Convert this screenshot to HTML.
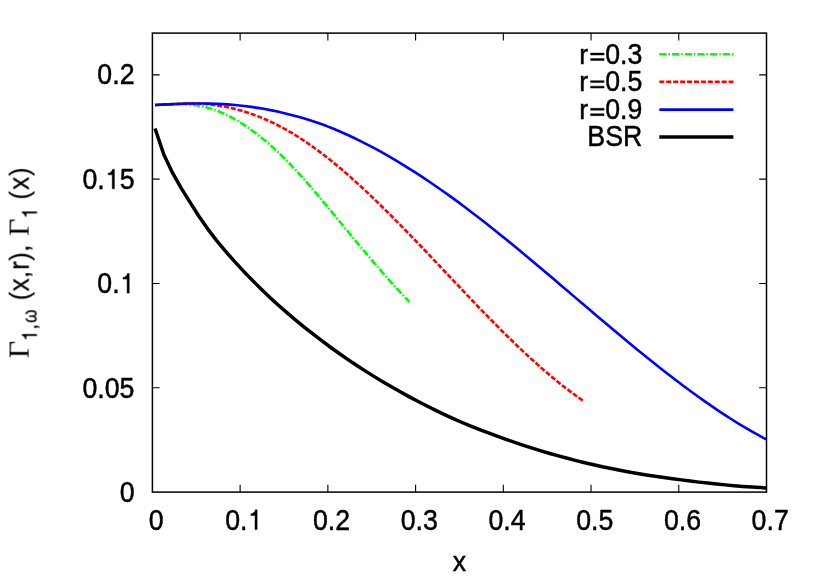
<!DOCTYPE html>
<html><head><meta charset="utf-8"><title>plot</title>
<style>html,body{margin:0;padding:0;background:#fff;}svg{display:block;}</style>
</head><body>
<svg width="830" height="581" viewBox="0 0 830 581">
<rect width="830" height="581" fill="#fff"/>
<g fill="none" stroke-linejoin="round">
<path d="M155.00,105.04 L160.19,104.69 L165.38,104.45 L170.58,104.28 L175.77,104.04 L180.96,103.85 L186.15,103.99 L191.34,104.63 L196.53,105.27 L201.73,106.17 L206.92,107.39 L212.11,108.95 L217.30,110.77 L222.49,112.97 L227.69,115.48 L232.88,118.23 L238.07,121.22 L243.26,124.44 L248.45,127.93 L253.64,131.65 L258.84,135.60 L264.03,139.77 L269.22,144.16 L274.41,148.77 L279.60,153.63 L284.80,158.71 L289.99,163.99 L295.18,169.48 L300.37,175.15 L305.56,180.98 L310.76,186.96 L315.95,193.06 L321.14,199.24 L326.33,205.41 L331.52,211.64 L336.71,217.93 L341.91,224.23 L347.10,230.54 L352.29,236.83 L357.48,243.09 L362.67,249.31 L367.87,255.49 L373.06,261.60 L378.25,267.64 L383.44,273.60 L388.63,279.47 L393.82,285.24 L399.02,290.89 L404.21,296.42 L409.40,301.81" stroke="#00ff00" stroke-width="2.6" stroke-dasharray="7.2 2 1.5 2"/>
<path d="M155.00,105.04 L161.22,104.63 L167.43,104.38 L173.65,104.13 L179.87,103.90 L186.09,103.65 L192.30,103.50 L198.52,103.46 L204.74,103.78 L210.96,104.49 L217.17,105.38 L223.39,106.41 L229.61,107.67 L235.83,109.16 L242.04,110.87 L248.26,112.81 L254.48,114.99 L260.70,117.40 L266.91,120.04 L273.13,122.91 L279.35,126.02 L285.57,129.35 L291.78,132.92 L298.00,136.74 L304.22,140.80 L310.43,145.08 L316.65,149.56 L322.87,154.23 L329.09,159.09 L335.30,164.12 L341.52,169.32 L347.74,174.68 L353.96,180.18 L360.17,185.82 L366.39,191.59 L372.61,197.48 L378.83,203.48 L385.04,209.58 L391.26,215.77 L397.48,222.05 L403.70,228.39 L409.91,234.80 L416.13,241.26 L422.35,247.77 L428.57,254.31 L434.78,260.87 L441.00,267.45 L447.22,274.04 L453.43,280.63 L459.65,287.20 L465.87,293.75 L472.09,300.26 L478.30,306.74 L484.52,313.17 L490.74,319.53 L496.96,325.83 L503.17,332.05 L509.39,338.17 L515.61,344.21 L521.83,350.13 L528.04,355.94 L534.26,361.62 L540.48,367.16 L546.70,372.56 L552.91,377.81 L559.13,382.89 L565.35,387.79 L571.57,392.52 L577.78,397.05 L584.00,401.38" stroke="#ff0000" stroke-width="2.6" stroke-dasharray="5 1.93"/>
<path d="M155.00,105.04 L161.87,104.60 L168.74,104.34 L175.61,104.04 L182.47,103.78 L189.34,103.56 L196.21,103.46 L203.08,103.50 L209.95,103.64 L216.82,103.83 L223.69,104.16 L230.55,104.64 L237.42,105.25 L244.29,106.01 L251.16,106.90 L258.03,107.90 L264.90,109.05 L271.77,110.36 L278.63,111.81 L285.50,113.41 L292.37,115.17 L299.24,117.05 L306.11,119.07 L312.98,121.25 L319.84,123.59 L326.71,126.09 L333.58,128.80 L340.45,131.71 L347.32,134.77 L354.19,137.98 L361.06,141.33 L367.92,144.83 L374.79,148.46 L381.66,152.22 L388.53,156.11 L395.40,160.13 L402.27,164.28 L409.14,168.54 L416.00,172.92 L422.87,177.41 L429.74,182.01 L436.61,186.71 L443.48,191.51 L450.35,196.42 L457.22,201.41 L464.08,206.50 L470.95,211.67 L477.82,216.93 L484.69,222.27 L491.56,227.68 L498.43,233.16 L505.30,238.71 L512.16,244.31 L519.03,249.97 L525.90,255.67 L532.77,261.41 L539.64,267.18 L546.51,272.99 L553.38,278.82 L560.24,284.66 L567.11,290.52 L573.98,296.38 L580.85,302.24 L587.72,308.10 L594.59,313.94 L601.46,319.77 L608.32,325.57 L615.19,331.35 L622.06,337.09 L628.93,342.79 L635.80,348.44 L642.67,354.05 L649.53,359.59 L656.40,365.07 L663.27,370.48 L670.14,375.82 L677.01,381.07 L683.88,386.24 L690.75,391.32 L697.61,396.30 L704.48,401.17 L711.35,405.94 L718.22,410.59 L725.09,415.12 L731.96,419.52 L738.83,423.79 L745.69,427.92 L752.56,431.90 L759.43,435.74 L766.30,439.42" stroke="#0000ff" stroke-width="2.6"/>
<path d="M155.03,128.53 L163.80,154.52 L172.58,172.93 L181.35,188.35 L190.12,202.38 L198.89,216.21 L207.67,228.87 L216.44,240.32 L225.21,250.85 L233.99,260.88 L242.76,270.37 L251.53,279.42 L260.30,288.17 L269.08,296.64 L277.85,304.75 L286.62,312.42 L295.40,319.85 L304.17,327.04 L312.94,333.98 L321.71,340.71 L330.49,347.22 L339.26,353.52 L348.03,359.59 L356.81,365.46 L365.58,371.14 L374.35,376.63 L383.12,381.93 L391.90,387.07 L400.67,392.06 L409.44,396.87 L418.22,401.52 L426.99,406.00 L435.76,410.35 L444.53,414.55 L453.31,418.59 L462.08,422.48 L470.85,426.21 L479.63,429.66 L488.40,432.97 L497.17,436.15 L505.94,439.30 L514.72,442.37 L523.49,445.32 L532.26,448.15 L541.04,450.86 L549.81,453.45 L558.58,455.94 L567.35,458.31 L576.13,460.57 L584.90,462.71 L593.67,464.74 L602.45,466.68 L611.22,468.52 L619.99,470.26 L628.76,471.91 L637.54,473.46 L646.31,474.92 L655.08,476.29 L663.86,477.56 L672.63,478.76 L681.40,479.88 L690.17,481.04 L698.95,482.12 L707.72,483.11 L716.49,484.03 L725.27,484.88 L734.04,485.68 L742.81,486.40 L751.58,487.04 L760.36,487.60 L766.30,487.94" stroke="#000" stroke-width="3.5"/>
</g>
<g fill="none">
<path d="M659.3,54.2 H733.4" stroke="#00ff00" stroke-width="2.6" stroke-dasharray="7.2 2 1.5 2"/>
<path d="M659.3,81.7 H733.4" stroke="#ff0000" stroke-width="2.6" stroke-dasharray="5 1.93"/>
<path d="M659.3,109.6 H733.4" stroke="#0000ff" stroke-width="2.6"/>
<path d="M659.3,137.1 H733.4" stroke="#000" stroke-width="3.5"/>
</g>
<g stroke="#000" fill="none">
<rect x="152.4" y="33.1" width="614.10" height="459.00" stroke-width="1.5"/>
<path d="M240.13,492.1 v-7.3 M240.13,33.1 v7.3 M327.86,492.1 v-7.3 M327.86,33.1 v7.3 M415.59,492.1 v-7.3 M415.59,33.1 v7.3 M503.31,492.1 v-7.3 M503.31,33.1 v7.3 M591.04,492.1 v-7.3 M591.04,33.1 v7.3 M678.77,492.1 v-7.3 M678.77,33.1 v7.3 M152.4,387.78 h7.3 M766.5,387.78 h-7.3 M152.4,283.46 h7.3 M766.5,283.46 h-7.3 M152.4,179.15 h7.3 M766.5,179.15 h-7.3 M152.4,74.83 h7.3 M766.5,74.83 h-7.3" stroke-width="1.1"/>
</g>
<g fill="#000" opacity="0.999">
<g font-family="'Liberation Sans', sans-serif" font-size="27.00" stroke="#000" stroke-width="0.45">
<text transform="translate(148.67,529.50) scale(0.99,1.105)">0</text>
</g>
<g font-family="'Liberation Sans', sans-serif" font-size="27.00" stroke="#000" stroke-width="0.45">
<text transform="translate(225.25,529.50) scale(0.99,1.105)">0.</text>
<path transform="translate(247.54,529.50) scale(0.02673,-0.02984)" d="M359,0 L279,0 L279,469 L125,469 L125,525 C200,530 262,570 296,658 L359,658 Z" stroke-width="16.67"/>
</g>
<g font-family="'Liberation Sans', sans-serif" font-size="27.00" stroke="#000" stroke-width="0.45">
<text transform="translate(312.98,529.50) scale(0.99,1.105)">0.2</text>
</g>
<g font-family="'Liberation Sans', sans-serif" font-size="27.00" stroke="#000" stroke-width="0.45">
<text transform="translate(400.71,529.50) scale(0.99,1.105)">0.3</text>
</g>
<g font-family="'Liberation Sans', sans-serif" font-size="27.00" stroke="#000" stroke-width="0.45">
<text transform="translate(488.44,529.50) scale(0.99,1.105)">0.4</text>
</g>
<g font-family="'Liberation Sans', sans-serif" font-size="27.00" stroke="#000" stroke-width="0.45">
<text transform="translate(576.17,529.50) scale(0.99,1.105)">0.5</text>
</g>
<g font-family="'Liberation Sans', sans-serif" font-size="27.00" stroke="#000" stroke-width="0.45">
<text transform="translate(663.89,529.50) scale(0.99,1.105)">0.6</text>
</g>
<g font-family="'Liberation Sans', sans-serif" font-size="27.00" stroke="#000" stroke-width="0.45">
<text transform="translate(751.62,529.50) scale(0.99,1.105)">0.7</text>
</g>
<g font-family="'Liberation Sans', sans-serif" font-size="27.00" stroke="#000" stroke-width="0.45">
<text transform="translate(119.64,501.75) scale(0.99,1.105)">0</text>
</g>
<g font-family="'Liberation Sans', sans-serif" font-size="27.00" stroke="#000" stroke-width="0.45">
<text transform="translate(82.48,397.93) scale(0.99,1.105)">0.05</text>
</g>
<g font-family="'Liberation Sans', sans-serif" font-size="27.00" stroke="#000" stroke-width="0.45">
<text transform="translate(97.35,293.11) scale(0.99,1.105)">0.</text>
<path transform="translate(119.64,293.11) scale(0.02673,-0.02984)" d="M359,0 L279,0 L279,469 L125,469 L125,525 C200,530 262,570 296,658 L359,658 Z" stroke-width="16.67"/>
</g>
<g font-family="'Liberation Sans', sans-serif" font-size="27.00" stroke="#000" stroke-width="0.45">
<text transform="translate(82.48,188.80) scale(0.99,1.105)">0.</text>
<path transform="translate(104.78,188.80) scale(0.02673,-0.02984)" d="M359,0 L279,0 L279,469 L125,469 L125,525 C200,530 262,570 296,658 L359,658 Z" stroke-width="16.67"/>
<text transform="translate(119.64,188.80) scale(0.99,1.105)">5</text>
</g>
<g font-family="'Liberation Sans', sans-serif" font-size="27.00" stroke="#000" stroke-width="0.45">
<text transform="translate(97.35,84.48) scale(0.99,1.105)">0.2</text>
</g>
<g font-family="'Liberation Sans', sans-serif" font-size="27.00" stroke="#000" stroke-width="0.45">
<text transform="translate(452.82,571.50) scale(0.99,1.03)">x</text>
</g>
<g font-family="'Liberation Sans', sans-serif" font-size="27.00" stroke="#000" stroke-width="0.45">
<text transform="translate(579.24,63.60) scale(0.99,1.03)">r</text>
<path transform="translate(589.53,63.60) scale(0.02673,-0.02700)" d="M39,115 H545 V187 H39 Z M39,318 H545 V390 H39 Z" stroke-width="16.67"/>
<text transform="translate(605.15,63.60) scale(0.99,1.105)">0.3</text>
</g>
<g font-family="'Liberation Sans', sans-serif" font-size="27.00" stroke="#000" stroke-width="0.45">
<text transform="translate(579.24,91.20) scale(0.99,1.03)">r</text>
<path transform="translate(589.53,91.20) scale(0.02673,-0.02700)" d="M39,115 H545 V187 H39 Z M39,318 H545 V390 H39 Z" stroke-width="16.67"/>
<text transform="translate(605.15,91.20) scale(0.99,1.105)">0.5</text>
</g>
<g font-family="'Liberation Sans', sans-serif" font-size="27.00" stroke="#000" stroke-width="0.45">
<text transform="translate(579.24,118.80) scale(0.99,1.03)">r</text>
<path transform="translate(589.53,118.80) scale(0.02673,-0.02700)" d="M39,115 H545 V187 H39 Z M39,318 H545 V390 H39 Z" stroke-width="16.67"/>
<text transform="translate(605.15,118.80) scale(0.99,1.105)">0.9</text>
</g>
<g font-family="'Liberation Sans', sans-serif" font-size="27.00" stroke="#000" stroke-width="0.45">
<text transform="translate(587.34,146.40) scale(0.99,1.105)">BSR</text>
</g>
<g transform="translate(28.6,358.2) rotate(-90)">
<text transform="translate(0.00,0.00) scale(1.05,1.0)" text-anchor="start" font-family="'Liberation Serif', serif" font-size="28.60">&#915;</text>
<g font-family="'Liberation Sans', sans-serif" font-size="20.20" stroke="#000" stroke-width="0.3">
<path transform="translate(16.80,8.20) scale(0.02000,-0.02232)" d="M359,0 L279,0 L279,469 L125,469 L125,525 C200,530 262,570 296,658 L359,658 Z" stroke-width="14.85"/>
</g>
<g font-family="'Liberation Sans', sans-serif" font-size="20.20" stroke="#000" stroke-width="0.3">
<text transform="translate(28.40,8.20) scale(0.99,1.03)">,</text>
</g>
<g font-family="'Liberation Sans', sans-serif" font-size="20.20" stroke="#000" stroke-width="0.3">
<text transform="translate(35.30,8.20) scale(0.85,1.03)">&#969;</text>
</g>
<g font-family="'Liberation Sans', sans-serif" font-size="26.60" stroke="#000" stroke-width="0.1">
<text transform="translate(57.80,0.00) scale(0.99,1.03)">(</text>
</g>
<g font-family="'Liberation Sans', sans-serif" font-size="26.60" stroke="#000" stroke-width="0.25">
<text transform="translate(66.77,0.00) scale(0.99,1.03)">x,</text>
</g>
<g font-family="'Liberation Sans', sans-serif" font-size="26.60" stroke="#000" stroke-width="0.25">
<text transform="translate(88.30,0.00) scale(0.99,1.03)">r</text>
</g>
<g font-family="'Liberation Sans', sans-serif" font-size="26.60" stroke="#000" stroke-width="0.1">
<text transform="translate(97.30,0.00) scale(0.99,1.03)">)</text>
</g>
<g font-family="'Liberation Sans', sans-serif" font-size="26.60" stroke="#000" stroke-width="0.25">
<text transform="translate(106.20,0.00) scale(0.99,1.03)">,</text>
</g>
<text transform="translate(122.20,0.00) scale(1.05,1.0)" text-anchor="start" font-family="'Liberation Serif', serif" font-size="28.60">&#915;</text>
<g font-family="'Liberation Sans', sans-serif" font-size="20.20" stroke="#000" stroke-width="0.3">
<path transform="translate(139.30,8.20) scale(0.02000,-0.02232)" d="M359,0 L279,0 L279,469 L125,469 L125,525 C200,530 262,570 296,658 L359,658 Z" stroke-width="14.85"/>
</g>
<g font-family="'Liberation Sans', sans-serif" font-size="26.60" stroke="#000" stroke-width="0.1">
<text transform="translate(158.40,0.00) scale(0.99,1.03)">(</text>
</g>
<g font-family="'Liberation Sans', sans-serif" font-size="26.60" stroke="#000" stroke-width="0.25">
<text transform="translate(168.30,0.00) scale(0.99,1.03)">x</text>
</g>
<g font-family="'Liberation Sans', sans-serif" font-size="26.60" stroke="#000" stroke-width="0.1">
<text transform="translate(182.00,0.00) scale(0.99,1.03)">)</text>
</g>
</g></g>
</svg>
</body></html>
